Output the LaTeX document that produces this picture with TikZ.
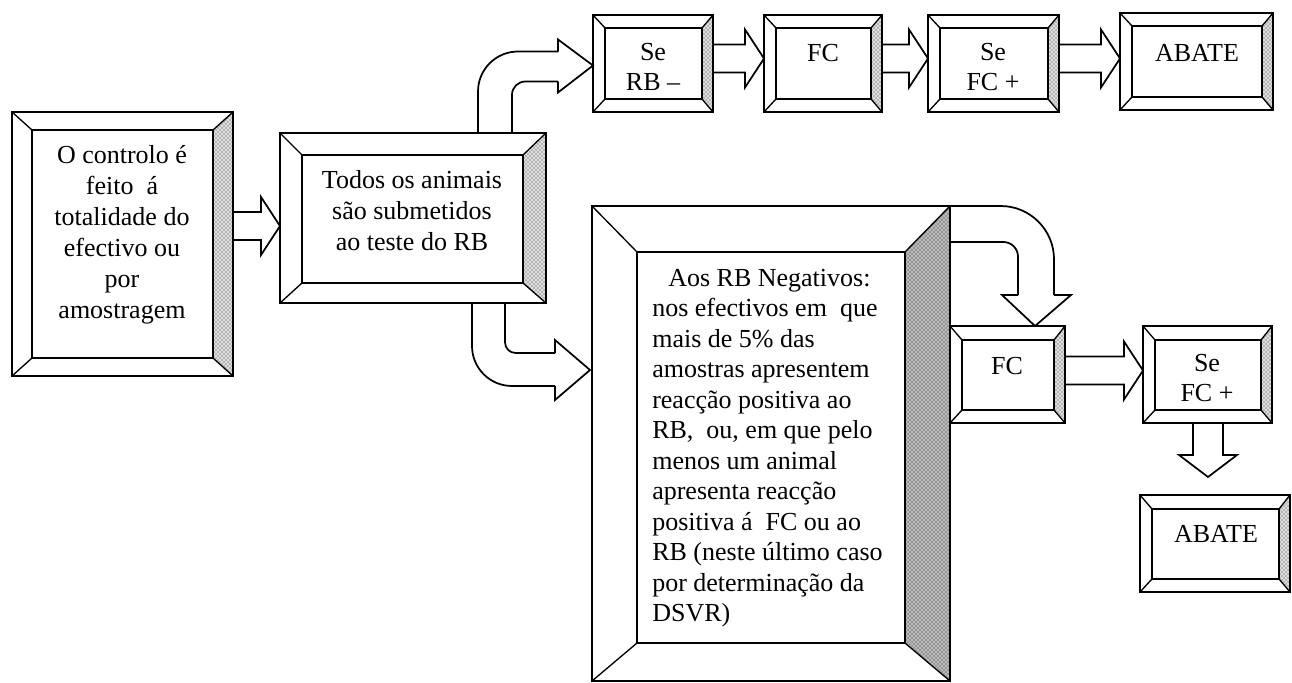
\documentclass[tikz,border=0pt]{standalone}
\usepackage{fontspec}
\setmainfont{Liberation Serif}
\usetikzlibrary{calc,patterns,fit}

\tikzset{
  x=0.75pt, y=-0.75pt,
  boxnode/.style={inner sep=0pt, outer sep=0pt, draw=none},
  outerline/.style={line width=1.8pt},
  innerline/.style={line width=1.3pt},
  diag/.style={line width=1pt},
  arr/.style={line width=1.3pt, line join=miter},
  txt/.style={inner sep=0pt, font=\fontsize{19.5}{22.5}\selectfont,
    execute at begin node=\strut, execute at end node=\strut},
  lightshade/.style={fill=gray!25},
  darkshade/.style={fill=gray!55},
}

% #1 name, #2 left, #3 top, #4 right, #5 bottom bevel depth, #6 shade style
\newcommand\bevel[6]{%
  \coordinate (#1-inw) at ($(#1.north west)+(#2,#3)$);
  \coordinate (#1-ine) at ($(#1.north east)+(-#4,#3)$);
  \coordinate (#1-ise) at ($(#1.south east)+(-#4,-#5)$);
  \coordinate (#1-isw) at ($(#1.south west)+(#2,-#5)$);
  \fill[#6] (#1.north east) -- (#1-ine) -- (#1-ise) -- (#1.south east) -- cycle;
  \fill[pattern=crosshatch dots, pattern color=black!85] (#1.north east) -- (#1-ine) -- (#1-ise) -- (#1.south east) -- cycle;
  \draw[innerline] (#1-inw) rectangle (#1-ise);
  \draw[diag] (#1.north west) -- (#1-inw);
  \draw[diag] (#1.north east) -- (#1-ine);
  \draw[diag] (#1.south east) -- (#1-ise);
  \draw[diag] (#1.south west) -- (#1-isw);
  \draw[outerline] (#1.north west) rectangle (#1.south east);
}

% horizontal block arrow: #1 start, #2 tip
\newcommand\harr[2]{%
  \draw[arr] ($(#1)+(0,-14)$) -- ($(#2)+(-19,-14)$) -- ($(#2)+(-19,-29)$) -- (#2)
    -- ($(#2)+(-19,29)$) -- ($(#2)+(-19,14)$) -- ($(#1)+(0,14)$);
}
% vertical (downward) block arrow: #1 start, #2 tip
\newcommand\varr[2]{%
  \draw[arr] ($(#1)+(-15,0)$) -- ($(#2)+(-15,-22)$) -- ($(#2)+(-29,-22)$) -- (#2)
    -- ($(#2)+(29,-22)$) -- ($(#2)+(15,-22)$) -- ($(#1)+(15,0)$);
}

\begin{document}
\begin{tikzpicture}
\fill[white] (0,0) rectangle (1292,682);
\useasboundingbox (0,0) rectangle (1292,682);

% boxes
\node[boxnode, fit={(12,112) (233,376)}] (b1) {};
\node[boxnode, fit={(280,133) (546,303)}] (b2) {};
\node[boxnode, fit={(593,15) (713,112)}] (t1) {};
\node[boxnode, fit={(764,15) (882,112)}] (t2) {};
\node[boxnode, fit={(928,15) (1059,112)}] (t3) {};
\node[boxnode, fit={(1120,13) (1273,110)}] (t4) {};
\node[boxnode, fit={(592,206) (950,681)}] (big) {};
\node[boxnode, fit={(950,326) (1065,423)}] (fc2) {};
\node[boxnode, fit={(1143,326) (1272,423)}] (sf2) {};
\node[boxnode, fit={(1140,495) (1290,592)}] (ab2) {};

\bevel{b1}{20}{18}{20}{18}{lightshade}
\bevel{b2}{22}{22}{23}{20}{lightshade}
\bevel{t1}{12}{13}{11}{13}{lightshade}
\bevel{t2}{12}{13}{11}{13}{lightshade}
\bevel{t3}{12}{13}{11}{13}{lightshade}
\bevel{t4}{12}{13}{11}{13}{lightshade}
\bevel{big}{45}{46}{45}{38}{darkshade}
\bevel{fc2}{12}{14}{11}{13}{lightshade}
\bevel{sf2}{12}{14}{11}{13}{lightshade}
\bevel{ab2}{12}{14}{11}{13}{lightshade}

% texts
\node[txt, align=center, font=\fontsize{19.5}{23.25}\selectfont] (b1t) at (122,237) {O controlo é\\feito\ \ á\\totalidade do\\efectivo ou\\por\\amostragem};
\node[txt, align=center, font=\fontsize{19.5}{23.4}\selectfont] (b2t) at (412,215) {Todos os animais\\são submetidos\\ao teste do RB};
\node[txt, align=center] (t1t) at (653,71) {Se\\RB –};
\node[txt] (t2t) at (823,55) {FC};
\node[txt, align=center] (t3t) at (993,71) {Se\\FC +};
\node[txt] (t4t) at (1197,55) {ABATE};
\node[txt, align=left, anchor=west, font=\fontsize{19.5}{22.9}\selectfont] (bigt) at (652,450) {\hspace*{12pt}Aos RB Negativos:\\nos efectivos em\ \ que\\mais de 5\% das\\amostras apresentem\\reacção positiva ao\\RB,\ \ ou, em que pelo\\menos um animal\\apresenta reacção\\positiva á\ \ FC ou ao\\RB (neste último caso\\por determinação da\\DSVR)};
\node[txt] (fc2t) at (1007,368) {FC};
\node[txt, align=center] (sf2t) at (1207,382) {Se\\FC +};
\node[txt] (ab2t) at (1216,536) {ABATE};

% straight block arrows
\coordinate (a1t) at ($(b2.west)+(0,8)$);
\coordinate (a1s) at (b1.east |- a1t);
\harr{a1s}{a1t}
\coordinate (a2t) at ($(t2.west)+(0,-5)$);
\coordinate (a2s) at (t1.east |- a2t);
\harr{a2s}{a2t}
\coordinate (a3t) at ($(t3.west)+(0,-5)$);
\coordinate (a3s) at (t2.east |- a3t);
\harr{a3s}{a3t}
\coordinate (a4t) at ($(t4.west)+(0,-3)$);
\coordinate (a4s) at (t3.east |- a4t);
\harr{a4s}{a4t}
\coordinate (a5t) at ($(sf2.west)+(0,-4)$);
\coordinate (a5s) at (fc2.east |- a5t);
\harr{a5s}{a5t}
\coordinate (a6t) at ($(ab2.north)+(-7,-18)$);
\coordinate (a6s) at (a6t |- sf2.south);
\varr{a6s}{a6t}

% curved arrow: b2 -> t1
\coordinate (c1a) at ($(b2.north west)+(198,0)$);
\coordinate (c1b) at ($(b2.north west)+(232,0)$);
\coordinate (c1t) at ($(t1.west)+(0,2)$);
\coordinate (c1h1) at ($(c1t)+(-35,-14)$);
\coordinate (c1h2) at ($(c1t)+(-35,16)$);
\draw[arr, rounded corners=30pt] (c1a) -- (c1a |- c1h1) -- (c1h1);
\draw[arr, rounded corners=10pt] (c1b) -- (c1b |- c1h2) -- (c1h2);
\draw[arr] (c1h1) -- ($(c1t)+(-35,-26)$) -- (c1t) -- ($(c1t)+(-35,27)$) -- (c1h2);

% curved arrow: b2 -> big
\coordinate (c2a) at ($(b2.south west)+(192,0)$);
\coordinate (c2b) at ($(b2.south west)+(225,0)$);
\coordinate (c2t) at ($(big.north west)+(-2,164)$);
\coordinate (c2h1) at ($(c2t)+(-35,-17)$);
\coordinate (c2h2) at ($(c2t)+(-35,16)$);
\draw[arr, rounded corners=8pt] (c2b) -- (c2b |- c2h1) -- (c2h1);
\draw[arr, rounded corners=30pt] (c2a) -- (c2a |- c2h2) -- (c2h2);
\draw[arr] (c2h1) -- ($(c2t)+(-35,-30)$) -- (c2t) -- ($(c2t)+(-35,30)$) -- (c2h2);

% curved arrow: big -> fc2
\coordinate (c3a) at (big.north east);
\coordinate (c3b) at ($(big.north east)+(0,36)$);
\coordinate (c3t) at ($(fc2.north east)+(-30,0)$);
\coordinate (c3h1) at ($(c3t)+(19,-31)$);
\coordinate (c3h2) at ($(c3t)+(-17,-31)$);
\draw[arr, rounded corners=40pt] (c3a) -- (c3a -| c3h1) -- (c3h1);
\draw[arr, rounded corners=11pt] (c3b) -- (c3b -| c3h2) -- (c3h2);
\draw[arr] (c3h2) -- ($(c3t)+(-33,-31)$) -- (c3t) -- ($(c3t)+(36,-31)$) -- (c3h1);
\end{tikzpicture}
\end{document}
